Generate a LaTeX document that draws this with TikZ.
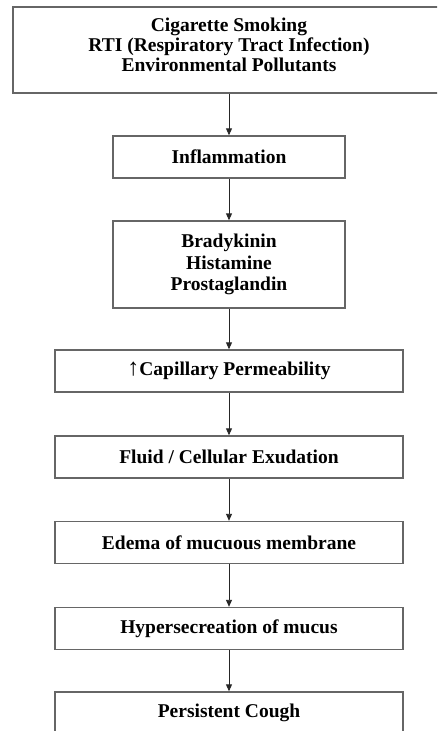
\documentclass[tikz,border=0pt]{standalone}
\usepackage{fontspec}
\setmainfont{Liberation Serif}
\usetikzlibrary{arrows.meta}

\tikzset{%
    stage/.style={draw=black!60, line width=1.4pt, fill=white, align=center,%
        inner sep=0pt, minimum height=42pt,%
        font=\fontsize{19.5}{20}\selectfont\bfseries},%
    flow/.style={draw=black!85, line width=0.9pt, -{Triangle[width=6pt,length=7pt]}},%
}

\begin{document}
\begin{tikzpicture}[x=1pt,y=-1pt]%
        \clip (0,0) rectangle (437,731);%
        \fill[white] (0,0) rectangle (437,731);%
        \node[stage, minimum width=432pt, minimum height=86pt] (cause) at (229,50)%
            {Cigarette Smoking\\RTI (Respiratory Tract Infection)\\Environmental Pollutants\\[-10pt]};%
        \node[stage, minimum width=232pt] (inflam) at (229,157) {Inflammation};%
        \node[stage, minimum width=232pt, minimum height=87pt,%
            font=\fontsize{19.5}{21.5}\selectfont\bfseries] (mediat) at (229,264.5)%
            {Bradykinin\\Histamine\\Prostaglandin};%
        \node[stage, minimum width=348pt] (perm) at (229,371)%
            {{\mdseries\fontsize{24}{22}\selectfont ↑}Capillary Permeability};%
        \node[stage, minimum width=348pt] (exud) at (229,457) {Fluid / Cellular Exudation};%
        \node[stage, minimum width=348pt] (edema) at (229,542.5) {Edema of mucuous membrane};%
        \node[stage, minimum width=348pt] (mucus) at (229,628.5) {Hypersecreation of mucus};%
        \node[stage, minimum width=348pt] (cough) at (229,713) {Persistent Cough};%
        \draw[flow] (cause) -- (inflam);%
        \draw[flow] (inflam) -- (mediat);%
        \draw[flow] (mediat) -- (perm);%
        \draw[flow] (perm) -- (exud);%
        \draw[flow] (exud) -- (edema);%
        \draw[flow] (edema) -- (mucus);%
        \draw[flow] (mucus) -- (cough);%
    \end{tikzpicture}
\end{document}
